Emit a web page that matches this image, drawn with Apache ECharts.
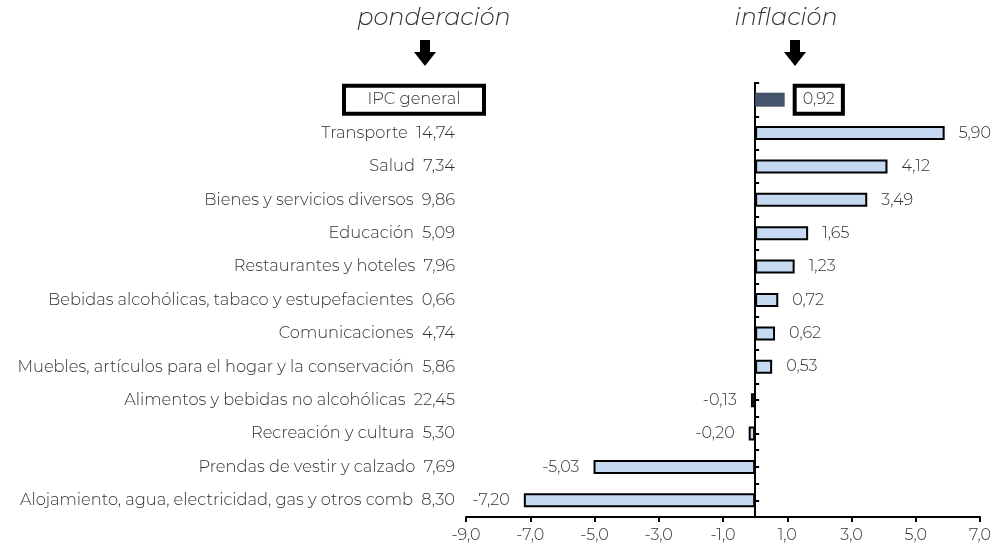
<!DOCTYPE html>
<html><head><meta charset="utf-8">
<script src="https://cdn.jsdelivr.net/npm/echarts@6/dist/echarts.min.js"></script>
<style>html,body{margin:0;padding:0;background:#fff}#c{width:998px;height:547px}</style>
</head><body><div id="c"></div>
<script>
const categories = ['IPC general','Transporte','Salud','Bienes y servicios diversos','Educación','Restaurantes y hoteles','Bebidas alcohólicas, tabaco y estupefacientes','Comunicaciones','Muebles, artículos para el hogar y la conservación','Alimentos y bebidas no alcohólicas','Recreación y cultura','Prendas de vestir y calzado','Alojamiento, agua, electricidad, gas y otros comb'];
const weights = [null,14.74,7.34,9.86,5.09,7.96,0.66,4.74,5.86,22.45,5.30,7.69,8.30];
const inflation = [0.92,5.90,4.12,3.49,1.65,1.23,0.72,0.62,0.53,-0.13,-0.20,-5.03,-7.20];
const xTicks = [-9,-7,-5,-3,-1,1,3,5,7];

const FONT = 'Montserrat';
const FS = 16;
const FSY = 16.3;
const fmt = v => v.toFixed(2).replace('.', ',');
const chart = echarts.init(document.getElementById('c'));

const barData = inflation.map((v,i) => {
  const d = {value: v};
  if (i === 0) {
    d.itemStyle = {color:'#44546a', borderWidth:0};
    d.label = {position:'right', distance:10, formatter: p => '{b|' + fmt(p.value) + '}'};
  } else {
    d.label = {position: v >= 0 ? 'right' : 'left', distance: 14};
  }
  return d;
});

chart.setOption({
  animation:false,
  textStyle:{fontFamily:FONT},
  grid:{left:466, right:18, top:83, bottom:30, outerBoundsMode:'none', containLabel:false},
  xAxis:{type:'value', min:-9, max:7,
    axisLine:{show:true, onZero:false, lineStyle:{color:'#000', width:2}},
    axisTick:{show:true, length:5, lineStyle:{color:'#000', width:2}, customValues:xTicks},
    axisLabel:{customValues:xTicks, color:'#333', fontSize:FS, fontWeight:300, fontFamily:FONT, margin:10, formatter: v => v.toFixed(1).replace('.', ',')},
    splitLine:{show:false}},
  yAxis:[{type:'category', data:categories, inverse:true,
    axisLine:{show:true, onZero:true, onZeroAxisIndex:0, lineStyle:{color:'#000', width:2}},
    axisTick:{show:true, inside:true, length:4, lineStyle:{color:'#000', width:2}},
    axisLabel:{margin:-18, color:'#333', fontSize:FSY, fontWeight:300, fontFamily:FONT,
      formatter:(val, idx) => {
        const w = weights[idx];
        if (w === null) return '{box|' + val + '}';
        return '{n|' + val + '  ' + fmt(w) + '}';
      },
      rich:{
        n:{fontSize:FSY, fontWeight:300, fontFamily:FONT, color:'#333', padding:[0,29,0,0]},
        box:{fontSize:FSY, fontWeight:300, fontFamily:FONT, color:'#333', width:134, align:'center', padding:[6,3], lineHeight:18, borderColor:'#000', borderWidth:4}
      }}
  },{type:'category', data:categories, inverse:true, position:'left',
    axisLine:{show:true, onZero:true, onZeroAxisIndex:0, lineStyle:{color:'#000', width:2}},
    axisTick:{show:true, inside:true, alignWithLabel:true, length:4, lineStyle:{color:'#000', width:2}},
    axisLabel:{show:false}}],
  series:[{type:'bar', data:barData, barWidth:14,
    itemStyle:{color:'#c5d9f1', borderColor:'#000', borderWidth:2},
    label:{show:true, color:'#333', fontSize:FS, fontWeight:300, fontFamily:FONT, formatter: p => fmt(p.value),
      rich:{b:{fontSize:FS, fontWeight:300, fontFamily:FONT, color:'#333', padding:[6,8], lineHeight:18, borderColor:'#000', borderWidth:4}}},
    z:3}],
  graphic:[
    {type:'text', style:{text:'ponderación', fontFamily:FONT, fontWeight:300, fontStyle:'italic', fontSize:24, fill:'#333', align:'center'}, x:434, y:6},
    {type:'text', style:{text:'inflación', fontFamily:FONT, fontWeight:300, fontStyle:'italic', fontSize:24, fill:'#333', align:'center'}, x:786, y:6},
    {type:'polygon', shape:{points:[[420,40],[430,40],[430,52],[436,52],[425,66],[414,52],[420,52]]}, style:{fill:'#000'}},
    {type:'polygon', shape:{points:[[790,40],[800,40],[800,52],[806,52],[795,66],[784,52],[790,52]]}, style:{fill:'#000'}}
  ]
});
</script></body></html>
